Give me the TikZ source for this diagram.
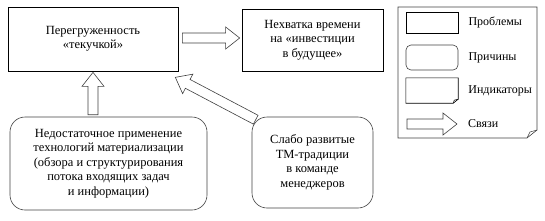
\documentclass[tikz,border=0pt]{standalone}
\usepackage{fontspec}
\setmainfont{Liberation Serif}
\newfontfamily\diagfont{Liberation Serif}
\usetikzlibrary{positioning, calc}

% block arrow between two named points
\newcommand{\blockarrow}[2]{%
  \coordinate (ba-head) at ($(#2)!14pt!(#1)$);
  \draw[arrowline] ($(#1)!5pt!90:(#2)$) -- ($(ba-head)!5pt!90:(#2)$) -- ($(ba-head)!11pt!90:(#2)$)
    -- (#2) -- ($(ba-head)!11pt!-90:(#2)$) -- ($(ba-head)!5pt!-90:(#2)$) -- ($(#1)!5pt!-90:(#2)$) -- cycle;}

\begin{document}
\begin{tikzpicture}[x=1pt, y=-1pt, font=\diagfont\fontsize{12.5}{14.5}\selectfont]
        \tikzstyle{problem} = [rectangle, draw=black, line width=0.7pt, inner sep=0pt, align=center]
        \tikzstyle{cause} = [rectangle, draw=black!75, line width=0.6pt, rounded corners=15pt, inner sep=0pt, align=center]
        \tikzstyle{arrowline} = [draw=black!75, line width=0.6pt, fill=white]
        \tikzstyle{legtext} = [anchor=west, inner sep=0pt, font=\diagfont\fontsize{12}{13}\selectfont]

        \useasboundingbox (0,0) rectangle (545,220);

        % problems
        \node [problem, minimum width=170pt, minimum height=64pt] (overload) at (93,39) {Перегруженность\\«текучкой»};
        \node [problem, minimum width=141pt, minimum height=62pt] (notime) at (312.5,40) {Нехватка времени\\на «инвестиции\\в будущее»};

        % causes
        \node [cause, minimum width=197pt, minimum height=93pt] (materia) at (108.5,163.5) {Недостаточное применение\\технологий материализации\\(обзора и структурирования\\потока входящих задач\\и информации)};
        \node [cause, minimum width=121pt, minimum height=91pt] (tmtrad) at (312.5,162.5) {Слабо развитые\\ТМ-традиции\\в команде\\менеджеров};

        % links
        \coordinate (r-from) at ($(overload.east)+(4,-1)$);
        \coordinate (r-to) at ($(notime.west |- r-from)+(-2,0)$);
        \blockarrow{r-from}{r-to}

        \coordinate (up-from) at ($(overload.south |- materia.north)+(0,-2)$);
        \coordinate (up-to) at ($(overload.south)+(0,1)$);
        \blockarrow{up-from}{up-to}

        \coordinate (d-from) at ($(tmtrad.north west)+(4,3)$);
        \coordinate (d-to) at ($(overload.south east)+(-3,6)$);
        \blockarrow{d-from}{d-to}

        % legend
        \draw [black!75, line width=0.6pt] (398,7) -- (537,7) -- (537,130) -- (527,138) -- (398,138) -- cycle;
        \draw [black!75, line width=0.5pt] (537,130) -- (530,132) -- (527,138);

        \node [problem, minimum width=52pt, minimum height=21pt] (leg-prob) at (432,22.5) {};
        \node [cause, rounded corners=5pt, minimum width=52pt, minimum height=25pt] (leg-cause) at (432,57.5) {};
        \node [minimum width=52pt, minimum height=25pt, inner sep=0pt] (leg-ind) at (432,90.5) {};
        \draw [black, line width=0.6pt] (leg-ind.north west) -- (leg-ind.north east) -- ($(leg-ind.south east)+(0,-4)$)
            -- ($(leg-ind.south east)+(-5,0)$) -- (leg-ind.south west) -- cycle;
        \draw [black, line width=0.5pt] ($(leg-ind.south east)+(0,-4)$) -- ($(leg-ind.south east)+(-4,-3)$) -- ($(leg-ind.south east)+(-5,0)$);
        \coordinate (leg-a-from) at (407,124);
        \coordinate (leg-a-to) at (457,124);
        \blockarrow{leg-a-from}{leg-a-to}

        \node [legtext, right=10pt of leg-prob] {Проблемы};
        \node [legtext, right=10pt of leg-cause] {Причины};
        \node [legtext, right=10pt of leg-ind] {Индикаторы};
        \node [legtext, right=11pt of leg-a-to] {Связи};
    \end{tikzpicture}
\end{document}
